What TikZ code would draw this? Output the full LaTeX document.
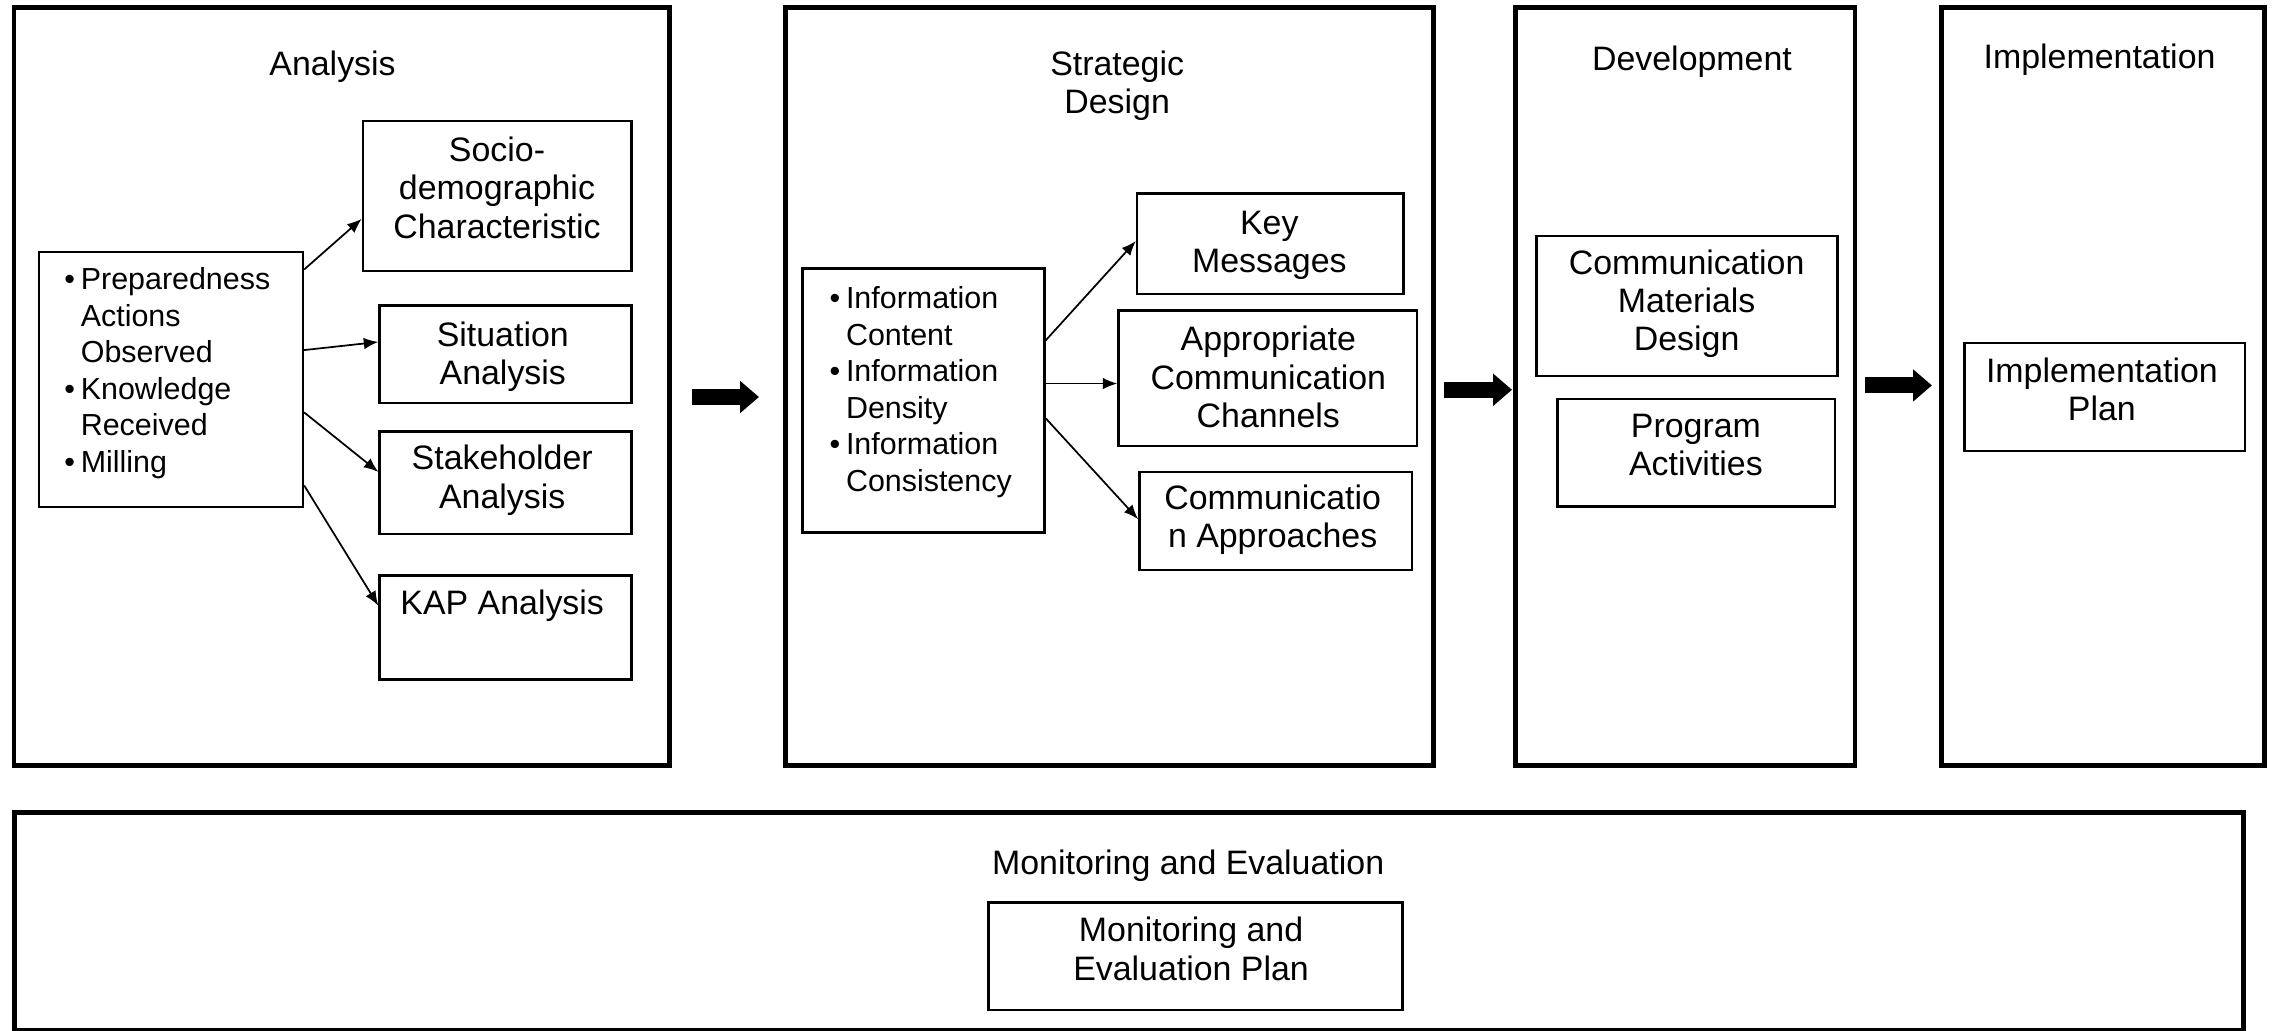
\documentclass[tikz,border=0pt]{standalone}
\usepackage{fontspec}
\setmainfont{Liberation Sans}
\usetikzlibrary{arrows.meta}
\newcommand\mlines[1]{\begin{tabular}{@{}c@{}}#1\end{tabular}}
\newcommand\blist[1]{\begin{tabular}{@{}l@{\hspace{2pt}}l@{}}#1\end{tabular}}
\tikzset{
  outerbox/.style={draw, line width=1.7pt, inner sep=0pt},
  ibox/.style={draw, line width=0.9pt, inner sep=0pt},
  txt/.style={inner sep=0pt, yshift=-1.5pt, font=\fontsize{11.7}{13.25}\selectfont},
  btxt/.style={inner sep=0pt, yshift=-1.5pt, font=\fontsize{10.5}{12.6}\selectfont},
  conn/.style={line width=0.6pt, -{Latex[length=5pt,width=4pt]}},
  bigarrow/.style={line width=5.5pt, -{Triangle[length=6.5pt,width=10.7pt]}}
}
\begin{document}
\begin{tikzpicture}[x=0.5pt,y=-0.5pt]
\useasboundingbox (0,0) rectangle (1568,711);

% outer phase boxes
\node[outerbox, minimum width=226.35pt, minimum height=261.5pt] (A) at (236,266.5) {};
\node[outerbox, minimum width=223.6pt, minimum height=261.5pt] (S) at (765.4,266.5) {};
\node[outerbox, minimum width=117pt, minimum height=261.5pt] (D) at (1163.2,266.5) {};
\node[outerbox, minimum width=111.15pt, minimum height=261.5pt] (I) at (1451.35,266.5) {};
\node[outerbox, minimum width=769.15pt, minimum height=75pt] (M) at (778.85,636) {};

% titles
\node[txt] (At) at (229.5,44) {\mlines{Analysis}};
\node[txt] (St) at (771,57) {\mlines{Strategic\\Design}};
\node[txt] (Dt) at (1167.7,40.5) {\mlines{Development}};
\node[txt] (It) at (1449,38.7) {\mlines{Implementation}};
\node[txt] (Mt) at (820,595) {\mlines{Monitoring and Evaluation}};

% Analysis inner boxes
\node[ibox, minimum width=91pt, minimum height=88pt] (prep) at (118,262) {};
\node[btxt] (prept) at (115.5,255) {\blist{\textbullet & Preparedness\\ & Actions\\ & Observed\\ \textbullet & Knowledge\\ & Received\\ \textbullet & Milling}};
\node[ibox, minimum width=92.75pt, minimum height=51.75pt] (soc) at (343.25,135.25) {};
\node[txt] (soct) at (343,129.7) {\mlines{Socio-\\demographic\\Characteristic}};
\node[ibox, minimum width=87pt, minimum height=33.5pt] (sit) at (349,244.5) {};
\node[txt] (sitt) at (347,243.8) {\mlines{Situation\\Analysis}};
\node[ibox, minimum width=87pt, minimum height=35.3pt] (stk) at (349,333.3) {};
\node[txt] (stkt) at (346.6,329.1) {\mlines{Stakeholder\\Analysis}};
\node[ibox, minimum width=87pt, minimum height=36pt] (kap) at (349,433) {};
\node[txt] (kapt) at (346.6,415.9) {\mlines{KAP Analysis}};

% Strategic design inner boxes
\node[ibox, minimum width=83.5pt, minimum height=91pt] (info) at (637.3,276.5) {};
\node[btxt] (infot) at (635.4,268) {\blist{\textbullet & Information\\ & Content\\ \textbullet & Information\\ & Density\\ \textbullet & Information\\ & Consistency}};
\node[ibox, minimum width=92pt, minimum height=34.65pt] (key) at (876.8,168.35) {};
\node[txt] (keyt) at (876,166.8) {\mlines{Key\\Messages}};
\node[ibox, minimum width=103pt, minimum height=46.8pt] (chan) at (875,261.1) {};
\node[txt] (chant) at (875.3,260.2) {\mlines{Appropriate\\Communication\\Channels}};
\node[ibox, minimum width=94pt, minimum height=33.8pt] (capp) at (880.35,359.5) {};
\node[txt] (cappt) at (878.3,356.6) {\mlines{Communicatio\\n Approaches}};

% Development inner boxes
\node[ibox, minimum width=103.85pt, minimum height=48.3pt] (cmd) at (1164.3,211.2) {};
\node[txt] (cmdt) at (1164,207.4) {\mlines{Communication\\Materials\\Design}};
\node[ibox, minimum width=95.8pt, minimum height=37.2pt] (pa) at (1170.6,312.5) {};
\node[txt] (pat) at (1170.4,306.8) {\mlines{Program\\Activities}};

% Implementation inner box
\node[ibox, minimum width=96.75pt, minimum height=37.35pt] (ip) at (1452.7,274) {};
\node[txt] (ipt) at (1450.6,268.6) {\mlines{Implementation\\Plan}};

% Monitoring inner box
\node[ibox, minimum width=143pt, minimum height=37pt] (mep) at (825,660) {};
\node[txt] (mept) at (822,655) {\mlines{Monitoring and\\Evaluation Plan}};

% connectors in Analysis
\draw[conn] ([yshift=38pt]prep.east) -- ([yshift=-7.9pt]soc.west);
\draw[conn] ([yshift=10.2pt]prep.east) -- ([yshift=4.25pt]sit.west);
\draw[conn] ([yshift=-11.3pt]prep.east) -- ([yshift=3.8pt]stk.west);
\draw[conn] ([yshift=-36.5pt]prep.east) -- ([yshift=7.5pt]kap.west);

% connectors in Strategic Design
\draw[conn] ([yshift=20.8pt]info.east) -- ([yshift=1pt]key.west);
\draw[conn] ([yshift=5.9pt]info.east) -- ([yshift=-1.8pt]chan.west);
\draw[conn] ([yshift=-6.1pt]info.east) -- ([yshift=0.6pt]capp.west);

% big arrows between phases
\coordinate (b1s) at (477.6,274);
\coordinate (b1e) at (523.8,274);
\coordinate (b2s) at (996.6,269);
\coordinate (b2e) at (1043.5,269);
\coordinate (b3s) at (1287,266);
\coordinate (b3e) at (1333.3,266);
\draw[bigarrow] (b1s) -- (b1e);
\draw[bigarrow] (b2s) -- (b2e);
\draw[bigarrow] (b3s) -- (b3e);
\end{tikzpicture}
\end{document}
